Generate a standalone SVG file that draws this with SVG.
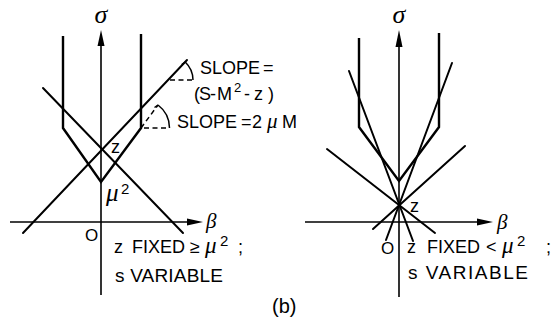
<svg xmlns="http://www.w3.org/2000/svg" width="560" height="320" viewBox="0 0 560 320">
<style>
.ln{stroke:#000;stroke-width:2;fill:none;stroke-linecap:round}
.ax{stroke:#000;stroke-width:1.6;fill:none}
.vt{stroke:#000;stroke-width:2.4;fill:none}
.ds{stroke:#000;stroke-width:1.5;fill:none;stroke-dasharray:5 3.5}
.ar{stroke:#000;stroke-width:1.5;fill:none}
.hd{fill:#000;stroke:none}
.t{font-family:"Liberation Sans",Arial,sans-serif;fill:#000}
.g{font-family:"Liberation Serif","Times New Roman",serif;font-style:italic;fill:#000}
</style>
<rect width="560" height="320" fill="#fff"/>

<g id="left-panel">
  <g id="left-axes">
    <line class="ax" x1="101" y1="44" x2="101" y2="295"/>
    <polygon class="hd" points="101,30 97.5,46 104.5,46"/>
    <line class="ax" x1="10" y1="222" x2="189" y2="222"/>
    <polygon class="hd" points="203,222 187,218.5 187,225.5"/>
  </g>
  <g id="left-curves">
    <polyline class="vt" points="63,36 63,128 101,182 141,128 141,34"/>
    <line class="ln" x1="43" y1="88" x2="183" y2="233"/>
    <line class="ln" x1="23" y1="233" x2="187" y2="60"/>
  </g>
  <g id="left-slope-marks">
    <line class="ds" x1="170" y1="80" x2="193" y2="80"/>
    <path class="ar" d="M185.2,62 A25,25 0 0 1 193,80"/>
    <path class="ar" d="M185.2,62 l-3.5,2.5"/>
    <line class="ds" x1="141" y1="128" x2="158" y2="105"/>
    <line class="ds" x1="144" y1="128" x2="169" y2="128"/>
    <path class="ar" d="M158,105 A29,29 0 0 1 169.5,128"/>
    <path class="ar" d="M158,105 l-3.5,2.5"/>
  </g>
  <g id="left-labels">
    <text class="g" x="101" y="23" style="font-size:26px" text-anchor="middle">σ</text>
    <text class="g" x="206" y="228" style="font-size:21px">β</text>
    <text class="t" x="111" y="153" style="font-size:18px">z</text>
    <text class="g" x="106" y="201" style="font-size:25px">μ</text>
    <text class="t" x="121" y="194" style="font-size:15px">2</text>
    <text class="t" x="85" y="241" style="font-size:17px">O</text>
    <text class="t" y="74" style="font-size:18px"><tspan x="200">SLOPE</tspan><tspan x="263">=</tspan></text>
    <text class="t" y="100" style="font-size:18px"><tspan x="194">(</tspan><tspan x="199">S</tspan><tspan x="210">-</tspan><tspan x="217">M</tspan><tspan x="234" dy="-8" style="font-size:13px">2</tspan><tspan x="244" dy="8">-</tspan><tspan x="254">z</tspan><tspan x="268">)</tspan></text>
    <text class="t" y="128" style="font-size:18px"><tspan x="177">SLOPE</tspan><tspan x="241">=</tspan><tspan x="252">2</tspan><tspan class="g" x="267" style="font-size:21px">μ</tspan><tspan x="282">M</tspan></text>
    <text class="t" y="253" style="font-size:18px"><tspan x="114">z</tspan><tspan x="132">FIXED</tspan><tspan x="190">≥</tspan><tspan class="g" x="205" style="font-size:23px">μ</tspan><tspan x="220" dy="-7" style="font-size:15px">2</tspan><tspan x="238" dy="7">;</tspan></text>
    <text class="t" x="115" y="282" style="font-size:19px" textLength="108" lengthAdjust="spacing">s VARIABLE</text>
  </g>
</g>

<g id="right-panel">
  <g id="right-axes">
    <line class="ax" x1="399" y1="44" x2="399" y2="297"/>
    <polygon class="hd" points="399,30 395.5,47 402.5,47"/>
    <line class="ax" x1="305" y1="222" x2="479" y2="222"/>
    <polygon class="hd" points="493,222 477,218.5 477,225.5"/>
  </g>
  <g id="right-curves">
    <polyline class="vt" points="359,38 359,127 399,181 439,127 439,33"/>
    <line class="ln" x1="349" y1="71" x2="413" y2="241"/>
    <line class="ln" x1="452" y1="63" x2="386" y2="240"/>
    <line class="ln" x1="327" y1="149" x2="435" y2="233"/>
    <line class="ln" x1="465" y1="146" x2="373" y2="229"/>
  </g>
  <g id="right-labels">
    <text class="g" x="399" y="23" style="font-size:26px" text-anchor="middle">σ</text>
    <text class="g" x="497" y="229" style="font-size:21px">β</text>
    <text class="t" x="410" y="212" style="font-size:18px">z</text>
    <text class="t" x="381" y="254" style="font-size:17px">O</text>
    <text class="t" y="253" style="font-size:18px"><tspan x="407">z</tspan><tspan x="427">FIXED</tspan><tspan x="486">&lt;</tspan><tspan class="g" x="502" style="font-size:23px">μ</tspan><tspan x="517" dy="-7" style="font-size:15px">2</tspan><tspan x="546" dy="7">;</tspan></text>
    <text class="t" x="408" y="279" style="font-size:19px" textLength="120" lengthAdjust="spacing">s VARIABLE</text>
  </g>
</g>

<text id="caption" class="t" x="272" y="313" style="font-size:20px">(b)</text>
</svg>
